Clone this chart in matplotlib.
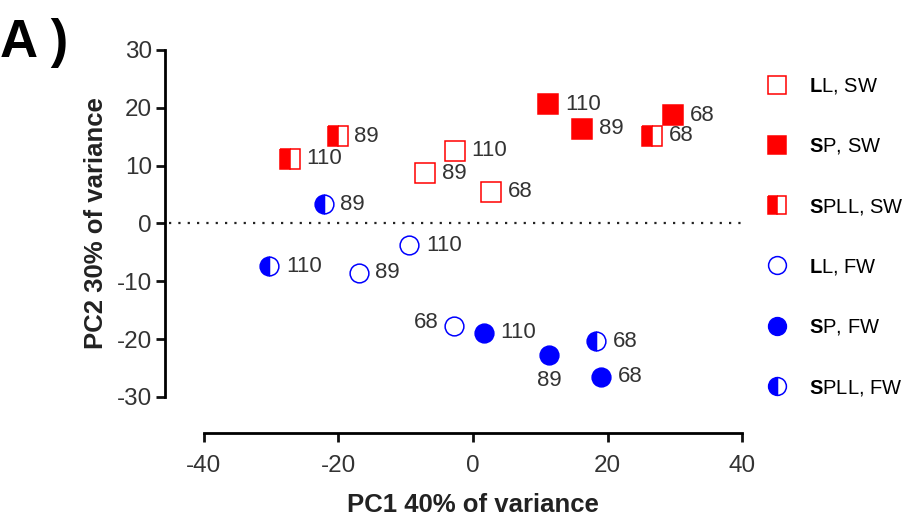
import matplotlib.pyplot as plt

plt.rcParams['font.family'] = ['Liberation Sans', 'DejaVu Sans']
plt.rcParams['axes.unicode_minus'] = False
plt.rcParams['mathtext.fontset'] = 'custom'
plt.rcParams['mathtext.rm'] = 'Liberation Sans'
plt.rcParams['mathtext.bf'] = 'Liberation Sans:bold'

# group data: PC1, PC2, label
ll_sw_x = [-2.7, -7.1, 2.7]
ll_sw_y = [12.6, 8.7, 5.5]
ll_sw_lab = ['110', '89', '68']

sp_sw_x = [11.2, 16.2, 29.7]
sp_sw_y = [20.6, 16.4, 18.7]
sp_sw_lab = ['110', '89', '68']

spll_sw_x = [-27.2, -20.1, 26.6]
spll_sw_y = [11.2, 15.1, 15.2]
spll_sw_lab = ['110', '89', '68']

ll_fw_x = [-9.5, -17.0, -2.8]
ll_fw_y = [-3.8, -8.5, -17.8]
ll_fw_lab = ['110', '89', '68']

sp_fw_x = [1.6, 11.3, 19.0]
sp_fw_y = [-18.9, -22.7, -26.5]
sp_fw_lab = ['110', '89', '68']

spll_fw_x = [-30.3, -22.2, 18.3]
spll_fw_y = [-7.4, 3.3, -20.4]
spll_fw_lab = ['110', '89', '68']

red = '#ff0000'
blue = '#0000ff'

fig = plt.figure(figsize=(9.09, 5.18), dpi=100)
ax = fig.add_axes([0.2244, 0.2336, 0.5919, 0.67])

groups = [
    (ll_sw_x, ll_sw_y, ll_sw_lab, 's', red, 'none', 'full', r'$\mathbf{L}$L, SW'),
    (sp_sw_x, sp_sw_y, sp_sw_lab, 's', red, red, 'full', r'$\mathbf{S}$P, SW'),
    (spll_sw_x, spll_sw_y, spll_sw_lab, 's', red, red, 'left', r'$\mathbf{S}$PLL, SW'),
    (ll_fw_x, ll_fw_y, ll_fw_lab, 'o', blue, 'none', 'full', r'$\mathbf{L}$L, FW'),
    (sp_fw_x, sp_fw_y, sp_fw_lab, 'o', blue, blue, 'full', r'$\mathbf{S}$P, FW'),
    (spll_fw_x, spll_fw_y, spll_fw_lab, 'o', blue, blue, 'left', r'$\mathbf{S}$PLL, FW'),
]

handles = []
for x, y, lab, m, c, fc, fs, name in groups:
    ms = 14 if m == 's' else 13.5
    h, = ax.plot(x, y, ls='none', marker=m, ms=ms, mec=c, mfc=fc,
                 fillstyle=fs, markerfacecoloralt='white', mew=1.1,
                 label=name, clip_on=False, zorder=3)
    handles.append(h)
    for xi, yi, t in zip(x, y, lab):
        off, ha, va = (12, 0), 'left', 'center'
        if m == 'o' and fc == 'none' and t == '68':
            off, ha = (-11, 3), 'right'
        if m == 'o' and fc == blue and fs == 'full' and t == '89':
            off, ha, va = (0, -11), 'center', 'top'
        ax.annotate(t, (xi, yi), xytext=off, textcoords='offset points',
                    ha=ha, va=va, fontsize=16, color='#333333')

ax.axhline(0, xmin=-0.065, xmax=1, color='#222222', ls=(0, (1, 3.2)),
           lw=1.6, clip_on=False, zorder=1)

ax.set_xlim(-40, 40)
ax.set_ylim(-30, 30)
ax.set_xticks([-40, -20, 0, 20, 40])
ax.set_yticks([-30, -20, -10, 0, 10, 20, 30])
for s in ['top', 'right']:
    ax.spines[s].set_visible(False)
ax.spines['left'].set_position(('outward', 28))
ax.spines['bottom'].set_position(('outward', 26))
for s in ['left', 'bottom']:
    ax.spines[s].set_linewidth(2.0)
ax.tick_params(width=2.0, length=6.5, labelsize=17.5, colors='#111111',
               labelcolor='#333333', pad=3)
ax.tick_params(axis='x', pad=9)
ax.set_xlabel('PC1 40% of variance', fontsize=18.5, fontweight='bold',
              color='#222222', labelpad=12)
ax.set_ylabel('PC2 30% of variance', fontsize=18.5, fontweight='bold',
              color='#222222', labelpad=6)

fig.legend(handles=handles, loc='upper left', bbox_to_anchor=(0.824, 0.888),
           frameon=False, fontsize=14.5, labelspacing=2.0, handletextpad=1.1,
           handlelength=1.0, markerscale=0.95)

fig.text(0.0, 0.965, 'A )', fontsize=38, fontweight='bold', va='top')

plt.savefig('out.png')
